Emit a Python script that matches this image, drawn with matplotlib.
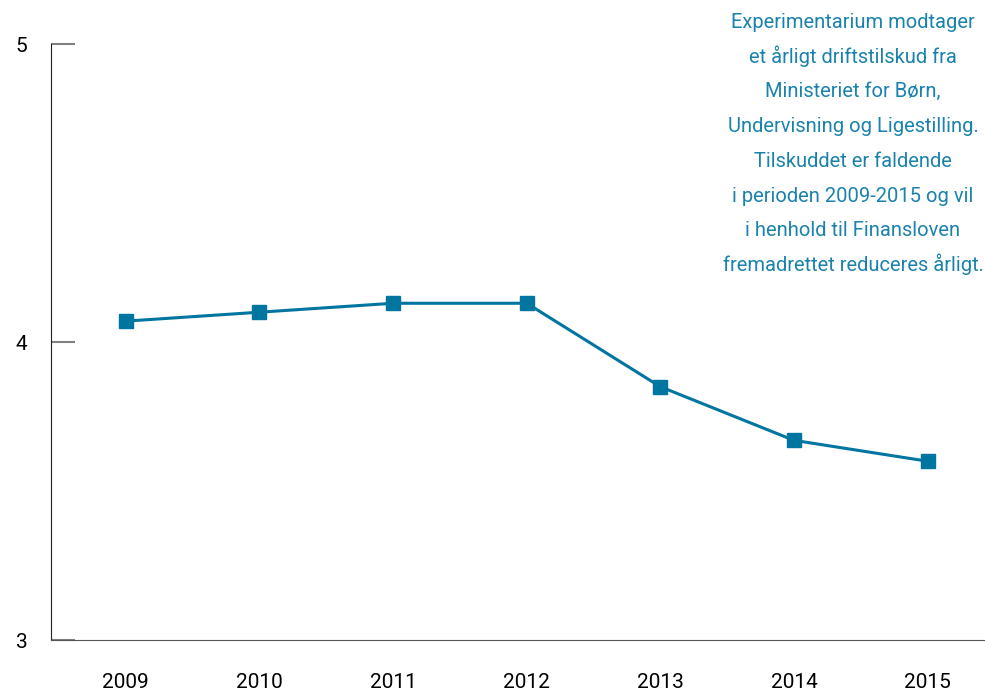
import matplotlib.pyplot as plt
from matplotlib import font_manager

# data
years = ['2009', '2010', '2011', '2012', '2013', '2014', '2015']
tilskud = [4.07, 4.10, 4.13, 4.13, 3.85, 3.67, 3.60]
y_ticks = [3, 4, 5]

note_lines = ["Experimentarium modtager",
              "et årligt driftstilskud fra",
              "Ministeriet for Børn,",
              "Undervisning og Ligestilling.",
              "Tilskuddet er faldende",
              "i perioden 2009-2015 og vil",
              "i henhold til Finansloven",
              "fremadrettet reduceres årligt."]

names = {f.name for f in font_manager.fontManager.ttflist}
fam = ['Liberation Sans Narrow', 'DejaVu Sans'] if 'Liberation Sans Narrow' in names else ['Roboto', 'DejaVu Sans']
plt.rcParams['font.family'] = fam

blue = '#0075a0'

fig = plt.figure(figsize=(9.85, 6.92), dpi=100)
ax = fig.add_axes([51 / 985, 1 - 640 / 692, 1 - 51 / 985, (640 - 44) / 692])

x = list(range(len(years)))
ax.plot(x, tilskud, color=blue, linewidth=2.2, marker='s', markersize=10)

ax.set_xlim(-0.56, 6.43)
ax.set_ylim(3, 5)
ax.set_xticks(x)
ax.set_xticklabels(years, fontsize=15)
ax.set_yticks(y_ticks)
ax.set_yticklabels([str(t) for t in y_ticks], fontsize=15)
ax.tick_params(axis='y', direction='in', length=17, width=1.5, color='#808080', pad=17)
ax.tick_params(axis='x', length=0, pad=24)

for s in ['top', 'right']:
    ax.spines[s].set_visible(False)
ax.spines['left'].set_color('#222222')
ax.spines['bottom'].set_color('#555555')

# textboks øverst til højre, en linje ad gangen for jævn afstand
for i, line in enumerate(note_lines):
    fig.text(853 / 985, 1 - (28 + i * 34.7) / 692, line, ha='center', va='baseline',
             fontsize=14.5, color='#1a82ad')

fig.savefig('out.png', dpi=100)
